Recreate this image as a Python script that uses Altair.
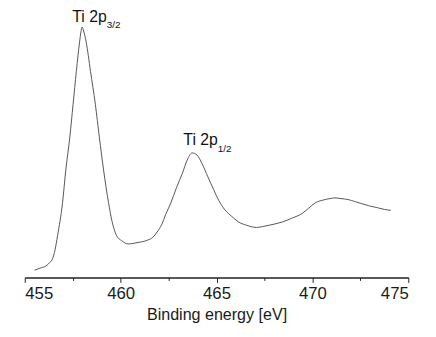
import altair as alt
import pandas as pd

energy = [455.51, 455.80, 456.11, 456.30, 456.45, 456.58, 456.71, 456.97, 457.14, 457.35,
          457.52, 457.69, 457.86, 457.93, 457.99, 458.07, 458.20, 458.43, 458.68, 458.89,
          459.11, 459.37, 459.55, 459.79, 460.05, 460.39, 460.65, 460.91, 461.16, 461.42,
          461.68, 461.90, 462.15, 462.34, 462.62, 462.91, 463.22, 463.47, 463.73, 463.99,
          464.24, 464.55, 464.85, 465.12, 465.44, 465.79, 466.13, 466.56, 467.08, 467.38,
          467.75, 468.10, 468.44, 468.92, 469.47, 469.79, 470.15, 470.56, 470.92, 471.18,
          471.49, 471.86, 472.21, 472.55, 472.98, 473.40, 473.75, 474.09]
intensity = [7.3, 9.5, 11.7, 15.0, 19.0, 28.0, 42.3, 75.7, 109.0, 142.3,
             175.7, 209.0, 239.0, 249.0, 254.0, 250.0, 239.0, 209.0, 175.7, 142.3,
             109.0, 75.7, 57.0, 42.3, 37.3, 34.0, 34.5, 35.5, 36.3, 38.0,
             40.7, 46.0, 54.0, 63.5, 75.7, 91.0, 105.7, 119.0, 126.3, 124.0,
             115.7, 102.0, 89.0, 78.0, 68.5, 62.0, 56.5, 53.0, 50.7, 51.5,
             53.0, 54.5, 56.3, 60.0, 65.0, 70.0, 75.7, 78.5, 80.0, 80.7,
             80.0, 79.0, 77.0, 75.0, 72.5, 70.7, 69.0, 68.0]

label_main = ["Ti 2p", "Ti 2p"]
label_sub = ["3/2", "1/2"]
main_x = [457.48, 463.27]
main_y = [259.0, 134.0]
sub_x = [459.28, 465.07]
sub_y = [253.0, 127.3]

tick_values = [455, 457.5, 460, 462.5, 465, 467.5, 470, 472.5, 475]

spec_df = pd.DataFrame({"E": energy, "I": intensity})
lab_df = pd.DataFrame({"t": label_main, "x": main_x, "y": main_y})
sub_df = pd.DataFrame({"t": label_sub, "x": sub_x, "y": sub_y})

xscale = alt.Scale(domain=[455, 475], nice=False)
yscale = alt.Scale(domain=[0, 269], nice=False)

line = alt.Chart(spec_df).mark_line(color="#555555", strokeWidth=1, interpolate="monotone").encode(
    x=alt.X("E:Q", scale=xscale, title="Binding energy [eV]",
            axis=alt.Axis(values=tick_values, grid=False,
                          labelExpr="datum.value % 5 == 0 ? datum.label : ''",
                          labelOverlap=False,
                          tickSize=alt.ExprRef("datum.value % 5 == 0 ? 5 : 3"),
                          labelFontSize=17, titleFontSize=16.3, titleFontWeight="normal",
                          labelFont="Liberation Sans", titleFont="Liberation Sans",
                          labelColor="#1a1a1a", titleColor="#1a1a1a",
                          domainColor="#222222", domainWidth=1.5,
                          tickColor="#222222", tickWidth=1,
                          labelPadding=3, titlePadding=6)),
    y=alt.Y("I:Q", scale=yscale, axis=None),
)

main_text = alt.Chart(lab_df).mark_text(align="left", baseline="alphabetic", fontSize=16,
                                         font="Liberation Sans", color="#111111").encode(
    x=alt.X("x:Q", scale=xscale), y=alt.Y("y:Q", scale=yscale), text="t:N")
sub_text = alt.Chart(sub_df).mark_text(align="left", baseline="alphabetic", fontSize=10,
                                        font="Liberation Sans", color="#111111").encode(
    x=alt.X("x:Q", scale=xscale), y=alt.Y("y:Q", scale=yscale), text="t:N")

chart = alt.layer(line, main_text, sub_text).properties(
    width=389, height=269,
    autosize=alt.AutoSizeParams(type="none"),
    padding={"left": 17, "top": 2, "right": 20, "bottom": 50},
).configure(background="white").configure_view(strokeWidth=0, stroke="transparent")

chart.save("out.html", embed_options={"renderer": "svg", "actions": False})
